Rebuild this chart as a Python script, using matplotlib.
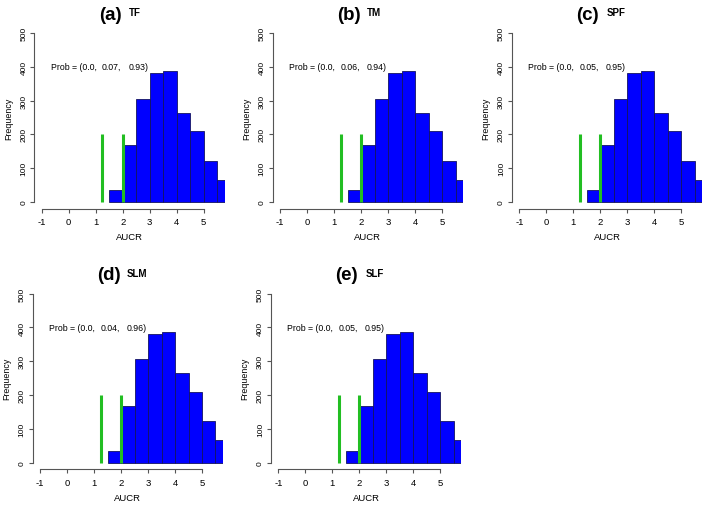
import matplotlib
matplotlib.use('Agg')
import matplotlib.pyplot as plt
import matplotlib.transforms as mtransforms
from matplotlib import font_manager

# ---- data ----
bin_edges = [1.5, 2.0, 2.5, 3.0, 3.5, 4.0, 4.5, 5.0, 5.5, 6.0]
counts = [36, 168, 306, 382, 387, 264, 210, 122, 66]
green_x = [1.25, 2.0]
green_top = 200
panel_tags = ['(a)', '(b)', '(c)', '(d)', '(e)']
panel_names = ['TF', 'TM', 'SPF', 'SLM', 'SLF']
panel_probs = [
    ['0.0', '0.07', '0.93'],
    ['0.0', '0.06', '0.94'],
    ['0.0', '0.05', '0.95'],
    ['0.0', '0.04', '0.96'],
    ['0.0', '0.05', '0.95'],
]
x_ticks = [-1, 0, 1, 2, 3, 4, 5]
y_ticks = [0, 100, 200, 300, 400, 500]

names = {f.name for f in font_manager.fontManager.ttflist}
narrow = 'Liberation Sans Narrow' if 'Liberation Sans Narrow' in names else 'Liberation Sans'
plt.rcParams['font.family'] = ['Liberation Sans', 'DejaVu Sans']

W, H = 707, 510
fig = plt.figure(figsize=(W / 100, H / 100), dpi=100)

# pixel location of data (0, 0) for each panel
origins = [(68.7, 203.0), (307.0, 203.0), (546.3, 203.0), (67.0, 463.7), (305.3, 463.7)]
sx, sy = 27.0, 0.338
xmin, xmax = -1.27, 5.78
ymin, ymax = -20, 520
axis_col = '#555555'


def add_panel(x0, y0, tag, name, probs):
    left = x0 + xmin * sx
    right = x0 + xmax * sx
    top = y0 - ymax * sy
    bottom = y0 - ymin * sy
    ax = fig.add_axes([left / W, 1 - bottom / H, (right - left) / W, (bottom - top) / H])
    widths = [b - a for a, b in zip(bin_edges[:-1], bin_edges[1:])]
    ax.bar(bin_edges[:-1], counts, width=widths, align='edge', color='#0000FF',
           edgecolor='#141460', linewidth=0.6, zorder=2)
    ax.vlines(green_x, 0, green_top, colors='#22BE22', linewidth=2.2, zorder=3)
    ax.set_xlim(xmin, xmax)
    ax.set_ylim(ymin, ymax)
    for s in ['top', 'right']:
        ax.spines[s].set_visible(False)
    ax.spines['left'].set_bounds(0, 500)
    ax.spines['bottom'].set_bounds(-1, 5)
    for s in ['left', 'bottom']:
        ax.spines[s].set_color(axis_col)
        ax.spines[s].set_linewidth(0.8)
    ax.set_xticks(x_ticks)
    ax.set_yticks(y_ticks)
    ax.set_xticklabels([str(t) for t in x_ticks], fontfamily=narrow, fontsize=6.8)
    ax.set_yticklabels([str(t) for t in y_ticks], rotation=90, va='center', fontsize=6)
    ax.tick_params(axis='both', length=3, width=0.8, color=axis_col, pad=2)
    ax.tick_params(axis='x', pad=3)
    ax.patch.set_visible(False)

    ax.text(0.5, -28 / (bottom - top), 'AUCR', transform=ax.transAxes, ha='center',
            va='center', fontfamily=narrow, fontsize=6.8)
    ax.text(-26 / (right - left), 250, 'Frequency',
            transform=mtransforms.blended_transform_factory(ax.transAxes, ax.transData),
            rotation=90, ha='center', va='center', fontsize=6.4)

    # probability text
    for xp, s in zip([-0.67, 1.23, 2.21], ['Prob = (' + probs[0] + ',', probs[1] + ',', probs[2] + ')']):
        ax.text(xp, 400, s, ha='left', va='center', fontfamily=narrow, fontsize=6.3)

    # titles
    trans = mtransforms.blended_transform_factory(ax.transData, ax.transAxes)
    ax.text(1.54, 1 + 12 / (bottom - top), tag, transform=trans, ha='center', va='center',
            fontsize=13.5, fontweight='bold', clip_on=False)
    ax.text(2.22, 1 + 14 / (bottom - top), name, transform=trans, ha='left', va='center',
            fontfamily=narrow, fontsize=7, fontweight='bold', clip_on=False)
    return ax


for (x0, y0), tag, name, probs in zip(origins, panel_tags, panel_names, panel_probs):
    add_panel(x0, y0, tag, name, probs)

fig.savefig('out.png', dpi=100)
